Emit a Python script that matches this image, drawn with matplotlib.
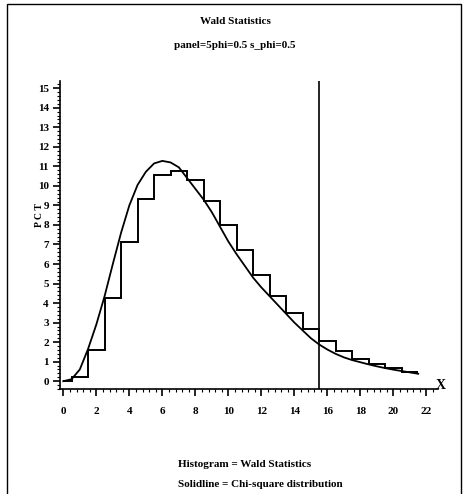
import matplotlib
matplotlib.use("Agg")
import matplotlib.pyplot as plt
from matplotlib.ticker import MultipleLocator
from matplotlib.patches import Rectangle

# histogram of Wald statistics (percent per bin), bins of width 1 centred on integers
bin_edges = [0, 0.5, 1.5, 2.5, 3.5, 4.5, 5.5, 6.5, 7.5, 8.5, 9.5, 10.5,
             11.5, 12.5, 13.5, 14.5, 15.5, 16.5, 17.5, 18.5, 19.5, 20.5, 21.5]
bin_pct = [0.03, 0.19, 1.6, 4.28, 7.12, 9.35, 10.58, 10.77, 10.29, 9.23, 7.99,
           6.74, 5.46, 4.37, 3.47, 2.66, 2.05, 1.55, 1.15, 0.9, 0.65, 0.47]

# chi-square curve
curve_x = [0, 0.5, 1.0, 1.5, 2.0, 2.5, 3.0, 3.5, 4.0, 4.5, 5.0, 5.5, 6.0, 6.5,
           7.0, 7.5, 8.0, 8.5, 9.0, 9.5, 10.0, 10.5, 11.0, 11.5, 12.0, 12.5,
           13.0, 13.5, 14.0, 14.5, 15.0, 15.5, 16.0, 16.5, 17.0, 17.5, 18.0,
           18.5, 19.0, 19.5, 20.0, 20.5, 21.0, 21.5]
curve_y = [0, 0.1, 0.6, 1.65, 2.9, 4.35, 6.0, 7.6, 9.0, 10.05, 10.72, 11.15,
           11.28, 11.2, 10.95, 10.4, 9.85, 9.3, 8.65, 7.9, 7.15, 6.5, 5.9, 5.3,
           4.8, 4.35, 3.9, 3.45, 3.0, 2.6, 2.2, 1.88, 1.62, 1.4, 1.22, 1.08,
           0.97, 0.86, 0.76, 0.67, 0.59, 0.52, 0.45, 0.38]

critical_value = 15.51

W, H = 468, 494
fig = plt.figure(figsize=(W / 100, H / 100), dpi=100)
serif = ["Liberation Serif", "DejaVu Serif"]

ax = fig.add_axes([60 / W, (H - 389) / H, 378 / W, 307.6 / H])

# step outline of the histogram, no drop to the baseline at the ends
ax.stairs(bin_pct, bin_edges, baseline=None, color="black", linewidth=1.4)
ax.plot(curve_x, curve_y, color="black", linewidth=1.3)
ax.axvline(critical_value, color="black", linewidth=1.2)

ax.set_xlim(-0.2, 22.7)
ax.set_ylim(-0.4, 15.35)
ax.spines["top"].set_visible(False)
ax.spines["right"].set_visible(False)
ax.spines["left"].set_linewidth(1.2)
ax.spines["bottom"].set_linewidth(1.2)
ax.xaxis.set_major_locator(MultipleLocator(2))
ax.xaxis.set_minor_locator(MultipleLocator(0.4))
ax.yaxis.set_major_locator(MultipleLocator(1))
ax.yaxis.set_minor_locator(MultipleLocator(0.2))
ax.tick_params(which="major", length=5, width=1.2, labelsize=8, pad=8)
ax.tick_params(which="minor", length=2.5, width=0.8)
ax.tick_params(axis="y", pad=3)
for lab in ax.get_xticklabels() + ax.get_yticklabels():
    lab.set_family(serif)
    lab.set_fontweight("bold")

fig.text(441 / W, (H - 385) / H, "X", family=serif, fontweight="bold",
         fontsize=10, ha="center", va="center")
fig.text(40 / W, (H - 215) / H, "P C T", family=serif, fontweight="bold",
         fontsize=7, rotation=90, ha="center", va="center")

fig.text(235 / W, (H - 22) / H, "Wald Statistics", family=serif,
         fontweight="bold", fontsize=8, ha="center", va="center")
fig.text(235 / W, (H - 45) / H, "panel=5phi=0.5 s_phi=0.5", family=serif,
         fontweight="bold", fontsize=8, ha="center", va="center")
fig.text(178 / W, (H - 464) / H, "Histogram = Wald Statistics", family=serif,
         fontweight="bold", fontsize=8, ha="left", va="center")
fig.text(178 / W, (H - 484) / H, "Solidline = Chi-square distribution",
         family=serif, fontweight="bold", fontsize=8, ha="left", va="center")

# frame around the whole page
fig.patches.append(Rectangle((7 / W, -0.01), 454 / W, (H - 4) / H + 0.01,
                             transform=fig.transFigure, fill=False,
                             edgecolor="black", linewidth=1.0))

fig.savefig("out.png", dpi=100)
